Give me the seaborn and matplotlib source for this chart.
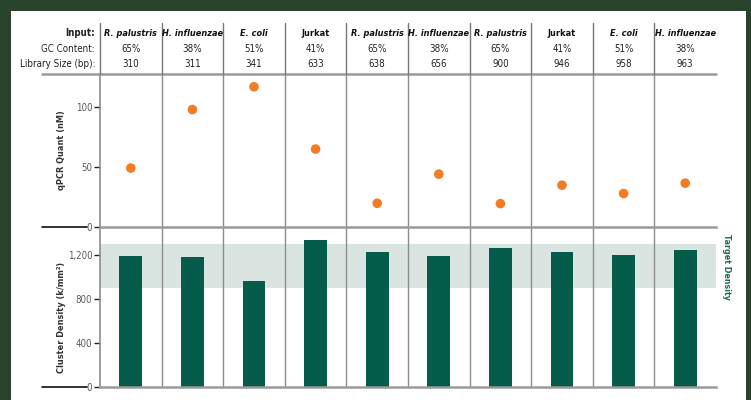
import matplotlib
matplotlib.use("Agg")
import matplotlib.pyplot as plt
import matplotlib.transforms as mtransforms
from matplotlib.lines import Line2D
from matplotlib.patches import Rectangle
import seaborn as sns
import pandas as pd

# ---- data ----
inputs = ["R. palustris", "H. influenzae", "E. coli", "Jurkat", "R. palustris",
          "H. influenzae", "R. palustris", "Jurkat", "E. coli", "H. influenzae"]
gc_content = ["65%", "38%", "51%", "41%", "65%", "38%", "65%", "41%", "51%", "38%"]
library_size = ["310", "311", "341", "633", "638", "656", "900", "946", "958", "963"]
qpcr_quant = [48.9, 97.5, 116.4, 64.7, 19.7, 43.9, 19.4, 34.7, 27.8, 36.4]
cluster_density = [1185, 1174, 959, 1330, 1222, 1186, 1258, 1222, 1195, 1240]
target_low, target_high = 900, 1300
qpcr_ticks = [0, 50, 100]
density_ticks = [0, 400, 800, 1200]
density_ticklabels = ["0", "400", "800", "1,200"]

df = pd.DataFrame({"pos": list(range(len(inputs))), "input": inputs,
                   "qpcr": qpcr_quant, "density": cluster_density})

sns.set_theme(style="white")
plt.rcParams["font.family"] = ["Liberation Sans Narrow", "DejaVu Sans"]
plt.rcParams["font.stretch"] = "condensed"
FS = 7
FS_NAME = 6.6
FS_TICK = 6.9

W, H = 751, 400
fig = plt.figure(figsize=(W / 100, H / 100), dpi=100)
fig.patch.set_facecolor("#2a432c")
fig.patches.append(Rectangle((11 / W, 0), (746 - 11) / W, (H - 11) / H,
                             transform=fig.transFigure, facecolor="white",
                             edgecolor="none", zorder=-5))

def px(x0, y0, x1, y1):
    return [x0 / W, 1 - y1 / H, (x1 - x0) / W, (y1 - y0) / H]

ax_top = fig.add_axes(px(100, 74, 716, 227))
ax_bot = fig.add_axes(px(100, 227, 716, 387))
ax_top.set_zorder(2)
ax_bot.set_zorder(1)

ORANGE = "#f47c24"
GREEN = "#065c4b"
BAND = "#dae5e1"
GRID = "#8c8c8c"
SPINE = "#9a9a9a"
TICKTXT = "#5a5a5a"

# ---- top: qPCR dots ----
sns.scatterplot(data=df, x="pos", y="qpcr", ax=ax_top, color=ORANGE, s=48,
                edgecolor="none", linewidth=0, zorder=3, legend=False)
ax_top.set_xlim(-0.5, len(inputs) - 0.5)
ax_top.set_ylim(0, 127)
ax_top.set_yticks(qpcr_ticks)
ax_top.set_yticklabels([str(t) for t in qpcr_ticks])

# ---- bottom: cluster density bars ----
ax_bot.axhspan(target_low, target_high, color=BAND, zorder=0, lw=0)
sns.barplot(data=df, x="pos", y="density", ax=ax_bot, color=GREEN,
            width=0.37, saturation=1, zorder=2, order=list(range(len(inputs))),
            linewidth=0, edgecolor="none")
ax_bot.set_xlim(-0.5, len(inputs) - 0.5)
ax_bot.set_ylim(0, 1450)
ax_bot.set_yticks(density_ticks)
ax_bot.set_yticklabels(density_ticklabels)

for ax in (ax_top, ax_bot):
    ax.set_facecolor("none")
    ax.set_xlabel("")
    ax.set_ylabel("")
    ax.set_xticks([])
    for s in ("top", "right"):
        ax.spines[s].set_visible(False)
    ax.spines["left"].set_color(GRID)
    ax.spines["left"].set_linewidth(1.2)
    ax.spines["bottom"].set_color(SPINE)
    ax.spines["bottom"].set_linewidth(1.8)
    for b in range(1, len(inputs)):
        ax.axvline(b - 0.5, color=GRID, lw=1.0, zorder=1)
    ax.tick_params(axis="y", left=True, length=4, width=1, color="#222222",
                   labelsize=FS_TICK, labelcolor=TICKTXT, pad=1.5)

ax_top.spines["bottom"].set_zorder(4)

# y labels
fig.text(62 / W, 1 - 150 / H, "qPCR Quant (nM)", rotation=90, ha="center",
         va="center", fontsize=6.6, fontweight="bold", color="#333333")
fig.text(62 / W, 1 - 317 / H, "Cluster Density (k/mm²)", rotation=90,
         ha="center", va="center", fontsize=6.6, fontweight="bold",
         color="#333333")

# target density label
fig.text(726 / W, 1 - 267 / H, "Target Density", rotation=-90, ha="center",
         va="center", fontsize=6.4, fontweight="bold", color="#1d6b52")

# black lead lines at zero
for ax in (ax_top, ax_bot):
    tr = mtransforms.blended_transform_factory(fig.transFigure, ax.transData)
    ax.add_line(Line2D([42 / W, 87 / W], [0, 0], transform=tr, color="#111111",
                       lw=1.2, clip_on=False))

# header line under the table
fig.lines.append(Line2D([42 / W, 716 / W], [1 - 74 / H, 1 - 74 / H],
                        transform=fig.transFigure, color=SPINE, lw=1.8))

# header column separators
trx = mtransforms.blended_transform_factory(ax_top.transData, fig.transFigure)
for b in range(0, len(inputs)):
    fig.lines.append(Line2D([b - 0.5, b - 0.5], [1 - 23 / H, 1 - 74 / H],
                            transform=trx, color="#777777", lw=1.0))

# header text
row_base = [35.5, 51.5, 67.3]
row_titles = ["Input:", "GC Content:", "Library Size (bp):"]
for i, t in enumerate(row_titles):
    fig.text(95 / W, 1 - row_base[i] / H, t, ha="right", va="baseline",
             fontsize=FS, color="#222222",
             fontweight="bold" if i == 0 else "normal")
for c, name in enumerate(inputs):
    italic = name != "Jurkat"
    fig.text(c, 1 - row_base[0] / H, name, transform=trx, ha="center",
             va="baseline", fontsize=FS_NAME, fontweight="bold",
             fontstyle="italic" if italic else "normal", color="#111111")
    fig.text(c, 1 - row_base[1] / H, gc_content[c], transform=trx,
             ha="center", va="baseline", fontsize=FS, color="#222222")
    fig.text(c, 1 - row_base[2] / H, library_size[c], transform=trx,
             ha="center", va="baseline", fontsize=FS, color="#222222")

fig.savefig("out.png", dpi=100, facecolor=fig.get_facecolor())
